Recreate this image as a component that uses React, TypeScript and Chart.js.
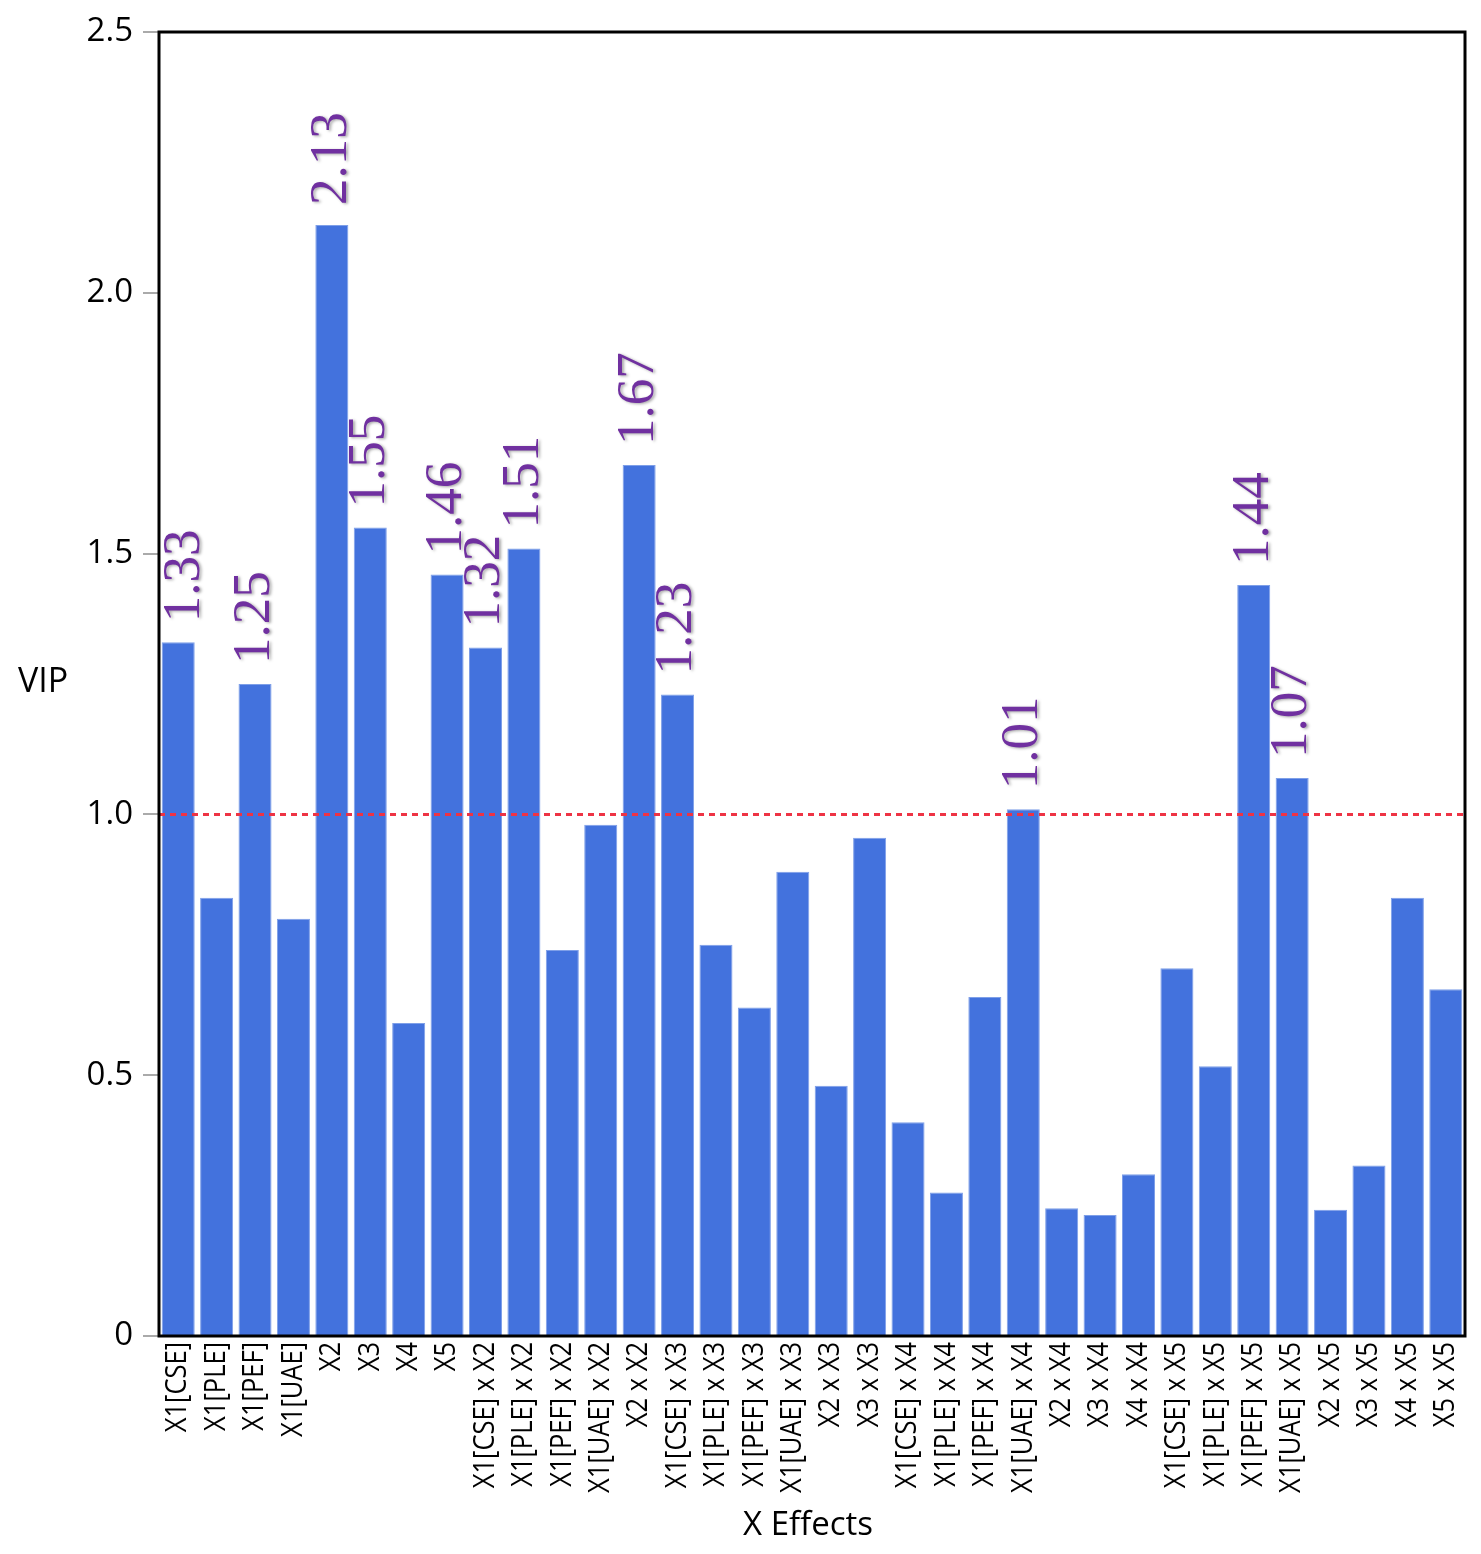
import React, { useEffect, useRef } from "react";
import { Chart, registerables } from "chart.js";

Chart.register(...registerables);

const categories = [
  "X1[CSE]", "X1[PLE]", "X1[PEF]", "X1[UAE]", "X2", "X3", "X4", "X5",
  "X1[CSE] x X2", "X1[PLE] x X2", "X1[PEF] x X2", "X1[UAE] x X2", "X2 x X2",
  "X1[CSE] x X3", "X1[PLE] x X3", "X1[PEF] x X3", "X1[UAE] x X3", "X2 x X3", "X3 x X3",
  "X1[CSE] x X4", "X1[PLE] x X4", "X1[PEF] x X4", "X1[UAE] x X4", "X2 x X4", "X3 x X4", "X4 x X4",
  "X1[CSE] x X5", "X1[PLE] x X5", "X1[PEF] x X5", "X1[UAE] x X5", "X2 x X5", "X3 x X5", "X4 x X5", "X5 x X5",
];

const vipValues = [
  1.33, 0.84, 1.25, 0.8, 2.13, 1.55, 0.6, 1.46,
  1.32, 1.51, 0.74, 0.98, 1.67,
  1.23, 0.75, 0.63, 0.89, 0.48, 0.955,
  0.41, 0.275, 0.65, 1.01, 0.245, 0.232, 0.31,
  0.705, 0.517, 1.44, 1.07, 0.242, 0.327, 0.84, 0.665,
];

const threshold = 1.0;
const yTicks = [0, 0.5, 1.0, 1.5, 2.0, 2.5];

export default function App() {
  const ref = useRef<HTMLCanvasElement | null>(null);

  useEffect(() => {
    document.body.style.margin = "0";
    const canvas = ref.current;
    if (!canvas) return;

    const overlay = {
      id: "overlay",
      afterDatasetsDraw(chart: any) {
        const { ctx, chartArea } = chart;
        const yScale = chart.scales.y;
        // threshold line
        ctx.save();
        ctx.strokeStyle = "#EE3344";
        ctx.lineWidth = 3;
        ctx.setLineDash([6, 5]);
        const ty = yScale.getPixelForValue(threshold);
        ctx.beginPath();
        ctx.moveTo(chartArea.left, ty);
        ctx.lineTo(chartArea.right, ty);
        ctx.stroke();
        ctx.restore();

        // value labels
        const meta = chart.getDatasetMeta(0);
        ctx.save();
        ctx.font = "53px 'Liberation Serif', 'Times New Roman', serif";
        ctx.fillStyle = "#7030A0";
        ctx.textAlign = "left";
        ctx.textBaseline = "middle";
        ctx.shadowColor = "rgba(0,0,0,0.35)";
        ctx.shadowBlur = 3;
        ctx.shadowOffsetX = 2;
        ctx.shadowOffsetY = 1;
        meta.data.forEach((bar: any, i: number) => {
          const v = vipValues[i];
          if (v <= threshold) return;
          const x = Math.max(bar.x, chartArea.left + 26);
          ctx.save();
          ctx.translate(x, bar.y - 20);
          ctx.rotate(-Math.PI / 2);
          ctx.fillText(v.toFixed(2), 0, 0);
          ctx.restore();
        });
        ctx.restore();
      },
      afterDraw(chart: any) {
        const { ctx, chartArea } = chart;
        const xScale = chart.scales.x;
        ctx.save();
        ctx.strokeStyle = "#000";
        ctx.lineWidth = 3;
        ctx.strokeRect(
          chartArea.left,
          chartArea.top,
          chartArea.right - chartArea.left,
          chartArea.bottom - chartArea.top
        );
        // x tick labels (rotated, slightly condensed)
        ctx.fillStyle = "#000";
        ctx.font = "29px 'Open Sans', 'Noto Sans', sans-serif";
        ctx.textAlign = "right";
        ctx.textBaseline = "middle";
        categories.forEach((label, i) => {
          const x = xScale.getPixelForValue(i);
          ctx.save();
          ctx.translate(x, chartArea.bottom + 6);
          ctx.rotate(-Math.PI / 2);
          ctx.scale(0.88, 1);
          ctx.fillText(label, 0, 0);
          ctx.restore();
        });
        // axis titles
        ctx.font = "34px 'Open Sans', 'Noto Sans', sans-serif";
        ctx.textAlign = "left";
        ctx.textBaseline = "middle";
        ctx.fillText("VIP", 18, 682);
        ctx.font = "33px 'Open Sans', 'Noto Sans', sans-serif";
        ctx.textAlign = "center";
        ctx.fillText("X Effects", 808, 1526);
        ctx.restore();
      },
    };

    const chart = new Chart(canvas, {
      type: "bar",
      data: {
        labels: categories,
        datasets: [
          {
            data: vipValues,
            backgroundColor: "#4372DD",
            borderColor: "#7E9FE8",
            borderWidth: 1,
            barPercentage: 0.86,
            categoryPercentage: 1,
          },
        ],
      },
      options: {
        responsive: false,
        animation: false,
        devicePixelRatio: 1,
        layout: { padding: { left: 0, top: 32, right: 16, bottom: 0 } },
        plugins: {
          legend: { display: false },
          tooltip: { enabled: false },
          title: { display: false },
        },
        scales: {
          x: {
            grid: { display: false },
            border: { display: false },
            ticks: { display: false, autoSkip: false },
            afterFit(scale: any) {
              scale.height = 218;
            },
          },
          y: {
            min: 0,
            max: 2.5,
            afterBuildTicks(scale: any) {
              scale.ticks = yTicks.map((v) => ({ value: v }));
            },
            grid: {
              display: true,
              drawOnChartArea: false,
              drawTicks: true,
              tickLength: 16,
              color: "#AAAAAA",
              lineWidth: 2,
            },
            border: { display: false },
            ticks: {
              padding: 10,
              color: "#000",
              font: { family: "'Open Sans', 'Noto Sans', sans-serif", size: 33 },
              callback: (v: any) => (Number(v) === 0 ? "0" : Number(v).toFixed(1)),
            },
            afterFit(scale: any) {
              scale.width = 159;
            },
          },
        },
      },
      plugins: [overlay],
    });

    return () => chart.destroy();
  }, []);

  return (
    <div style={{ position: "absolute", left: 0, top: 0, width: 1481, height: 1554 }}>
      <canvas ref={ref} width={1481} height={1554} style={{ width: 1481, height: 1554, display: "block" }} />
    </div>
  );
}
